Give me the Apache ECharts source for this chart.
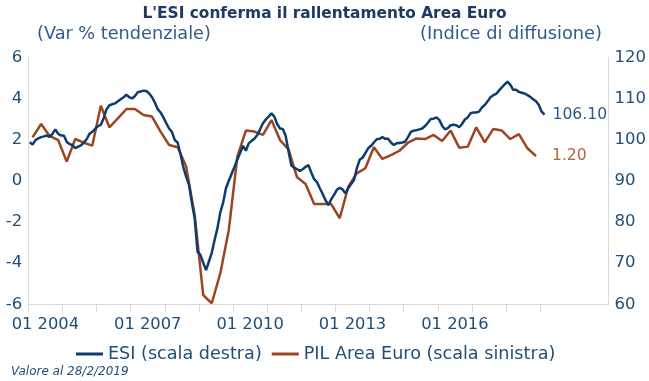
<!DOCTYPE html>
<html><head><meta charset="utf-8">
<script src="https://cdn.jsdelivr.net/npm/echarts@6/dist/echarts.min.js"></script>
<style>html,body{margin:0;padding:0;background:#fff}#c{width:649px;height:381px}</style>
</head><body><div id="c"></div>
<script>
// ESI monthly, Jan 2004 .. Feb 2019 (right axis)
const esi = [
99.4,98.8,99.9,100.3,100.6,100.8,101.0,100.7,101.4,102.5,101.4,101.0,
101.0,99.5,98.9,98.7,97.9,98.3,98.6,99.3,100.1,101.4,101.9,102.6,
103.3,103.6,105.2,107.4,108.3,108.6,108.8,109.3,109.8,110.3,110.9,110.3,
110.0,110.6,111.5,111.7,111.9,111.8,111.2,110.3,109.0,107.4,106.6,105.4,
104.0,102.7,101.9,99.9,99.3,96.5,93.3,91.0,89.0,84.7,80.9,72.8,
72.0,70.1,68.3,70.4,72.5,75.6,78.5,82.3,84.7,88.2,90.0,91.7,
93.4,95.2,96.8,98.5,97.3,99.1,99.7,100.2,101.1,102.5,104.0,104.9,
105.6,106.4,105.6,103.8,102.7,102.6,100.9,97.1,93.7,93.2,92.8,92.4,
92.8,93.4,93.8,92.0,90.4,89.7,88.2,86.8,85.3,84.1,85.5,86.6,
87.8,88.3,87.9,87.0,88.2,89.2,90.2,93.0,95.1,95.6,96.7,97.9,
98.5,99.3,100.1,100.2,100.6,100.2,100.2,99.3,98.7,99.1,99.2,99.3,
99.5,100.6,101.9,102.2,102.3,102.5,102.7,103.3,104.1,105.0,105.1,105.4,
104.8,103.4,102.5,102.8,103.5,103.6,103.5,103.0,103.8,104.9,105.4,106.4,
106.6,106.6,106.8,107.8,108.4,109.3,110.3,110.8,111.1,111.9,112.7,113.4,
114.1,113.3,112.1,112.1,111.6,111.4,111.2,110.8,110.4,109.8,109.3,108.4,
106.8,106.1
];
// PIL Area Euro, % yoy, quarterly 2004Q1 .. 2018Q4 (left axis)
const pil = [
2.11,2.76,2.18,1.98, 0.93,2.03,1.85,1.71, 3.65,2.60,3.03,3.49,
3.49,3.20,3.12,2.39, 1.74,1.63,0.69,-1.66, -5.55,-5.95,-4.50,-2.39,
1.17,2.44,2.39,2.23, 2.95,1.98,1.53,0.17, -0.16,-1.13,-1.13,-1.13,
-1.82,-0.29,0.36,0.61, 1.63,1.06,1.25,1.46, 1.85,2.06,2.03,2.23,
1.93,2.44,1.61,1.66, 2.60,1.87,2.52,2.44, 2.03,2.27,1.58,1.20
];
const startYear = 2004;
const tickYears = [2004,2005,2006,2007,2008,2009,2010,2011,2012,2013,2014,2015,2016,2017,2018,2019];
const labelYears = [2004,2007,2010,2013,2016];
const xLabels = ['01 2004','01 2007','01 2010','01 2013','01 2016'];
const esiLast = '106.10', pilLast = '1.20';

const FONT = 'DejaVu Sans';
const labelColor = '#1F4E79';
const chart = echarts.init(document.getElementById('c'), null, {renderer:'canvas'});
const tickVals = tickYears.map(y => (y - startYear) * 12);
const labelVals = labelYears.map(y => (y - startYear) * 12 + 6);

chart.setOption({
  animation:false,
  textStyle:{fontFamily:FONT},
  title:[
    {text:"L'ESI conferma il rallentamento Area Euro", left:'center', top:1,
     textStyle:{fontFamily:FONT, fontSize:15.4, fontWeight:'bold', color:'#1F3864'}},
    {text:'(Var % tendenziale)', left:32, top:20,
     textStyle:{fontFamily:FONT, fontSize:17.7, fontWeight:'normal', color:'#2F5C8F'}},
    {text:'(Indice di diffusione)', right:42, top:20,
     textStyle:{fontFamily:FONT, fontSize:17.8, fontWeight:'normal', color:'#2F5C8F'}},
    {text:'Valore al 28/2/2019', left:6, top:361,
     textStyle:{fontFamily:FONT, fontSize:12, fontStyle:'italic', fontWeight:'normal', color:'#1F4E79'}}
  ],
  legend:{
    left:71, top:340, icon:'rect', itemWidth:27, itemHeight:3, itemGap:10,
    textStyle:{fontFamily:FONT, fontSize:17.6, color:labelColor},
    data:['ESI (scala destra)','PIL Area Euro (scala sinistra)']
  },
  grid:{left:28.3, right:38.3, top:57.3, bottom:76.7, containLabel:false},
  xAxis:{
    type:'value', min:0, max:204,
    axisLine:{show:true, onZero:false, lineStyle:{color:'#D9D9D9', width:1}},
    splitLine:{show:false},
    axisTick:{show:true, customValues:tickVals, length:8, lineStyle:{color:'#D9D9D9'}},
    axisLabel:{customValues:labelVals, margin:12, fontSize:16.3, color:labelColor, fontFamily:FONT,
      formatter:(v)=>{const i=labelVals.indexOf(v); return i>=0?xLabels[i]:'';}}
  },
  yAxis:[
    {type:'value', min:-6, max:6, interval:2, position:'left',
     axisLine:{show:true, lineStyle:{color:'#D9D9D9'}}, axisTick:{show:false},
     splitLine:{show:false},
     axisLabel:{margin:6, fontSize:16.5, color:labelColor, fontFamily:FONT}},
    {type:'value', min:60, max:120, interval:10, position:'right',
     axisLine:{show:true, lineStyle:{color:'#D9D9D9'}}, axisTick:{show:false},
     splitLine:{show:false},
     axisLabel:{margin:6, fontSize:16.5, color:labelColor, fontFamily:FONT}}
  ],
  series:[
    {name:'ESI (scala destra)', type:'line', yAxisIndex:1, showSymbol:false, symbol:'none',
     data:esi.map((v,i)=>[i+0.5, v]),
     lineStyle:{color:'#0E3C6E', width:2.5}, itemStyle:{color:'#0E3C6E'},
     endLabel:{show:true, formatter:()=>esiLast, distance:8, fontSize:15.6, color:'#2A5A8A', fontFamily:FONT},
     z:3},
    {name:'PIL Area Euro (scala sinistra)', type:'line', yAxisIndex:0, showSymbol:false, symbol:'none',
     data:pil.map((v,q)=>[3*q+1.5, v]),
     lineStyle:{color:'#9C4520', width:2.5}, itemStyle:{color:'#9C4520'},
     endLabel:{show:true, formatter:()=>pilLast, distance:16, fontSize:15.6, color:'#B5663E', fontFamily:FONT},
     z:2}
  ]
});
</script></body></html>
